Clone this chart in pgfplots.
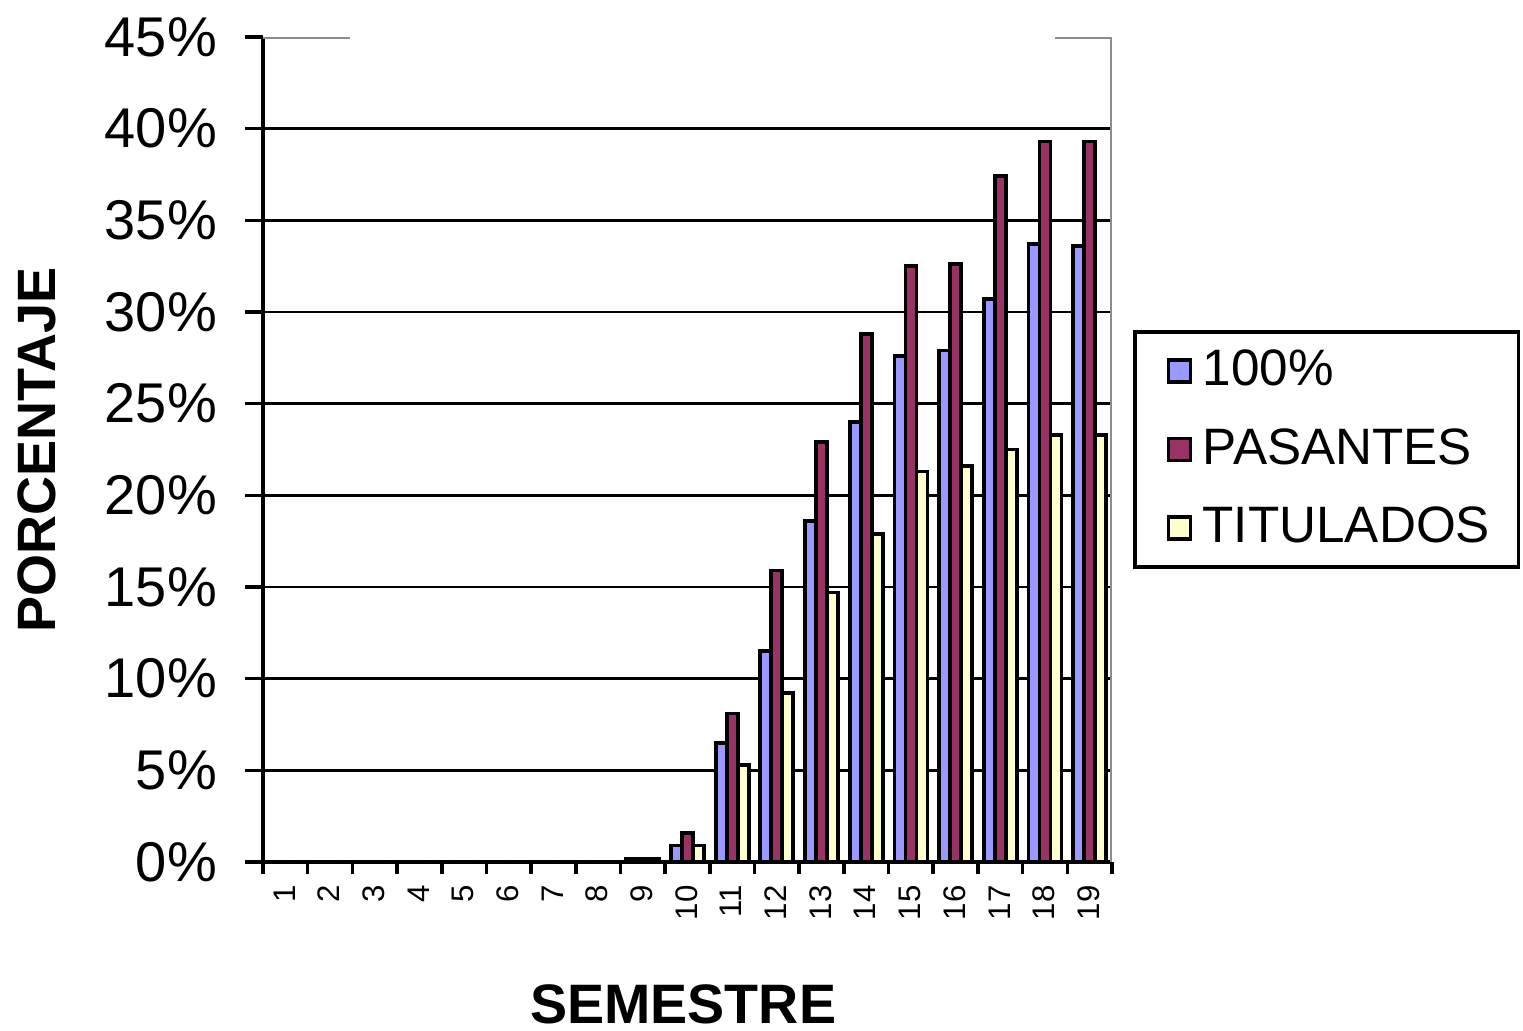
\documentclass[border=0pt]{standalone}
\usepackage{pgfplots}
\pgfplotsset{compat=1.18}
\usepackage{fontspec}
\setmainfont{Liberation Sans}
\definecolor{cA}{HTML}{9999FF}
\definecolor{cB}{HTML}{993366}
\definecolor{cC}{HTML}{FFFFCC}
\pgfplotstableread{
x a b c
1 0 0 0
2 0 0 0
3 0 0 0
4 0 0 0
5 0 0 0
6 0 0 0
7 0 0 0
8 0 0 0
9 0.15 0.15 0.15
10 0.9 1.6 0.9
11 6.5 8.1 5.3
12 11.5 15.9 9.2
13 18.6 22.9 14.7
14 24.0 28.8 17.9
15 27.6 32.5 21.3
16 27.9 32.6 21.6
17 30.7 37.4 22.5
18 33.7 39.3 23.3
19 33.6 39.3 23.3
}\data
\begin{document}
\begin{tikzpicture}
\begin{axis}[
  name=ax,
  scale only axis,
  width=212.25pt, height=206.25pt,
  xmin=0.5, xmax=19.5, ymin=0, ymax=45,
  ybar=0pt, bar width=2.75pt,
  axis lines*=left,
  axis line style={line width=0.9pt, black},
  xtick={1,...,19},
  xticklabels={1,2,3,4,5,6,7,8,9,10,11,12,13,14,15,16,17,18,19},
  xticklabel style={rotate=90, anchor=east, font=\fontsize{7.8}{8}\selectfont, yshift=0.25pt, xshift=2.2pt},
  xtick style={draw=none},
  extra x ticks={0.5,1.5,...,19.5},
  extra x tick labels={},
  extra x tick style={xtick style={draw=black, line width=0.9pt}, major tick length=3pt, grid=none},
  ytick={0,5,...,40},
  yticklabels={0\%,5\%,10\%,15\%,20\%,25\%,30\%,35\%,40\%},
  extra y ticks={45},
  extra y tick labels={45\%},
  extra y tick style={grid=none},
  yticklabel style={font=\fontsize{14}{16}\selectfont, xshift=-3.5pt},
  ytick style={line width=0.9pt, black},
  tick align=outside,
  major tick length=4.5pt,
  ymajorgrids,
  grid style={black, line width=0.7pt},
  ylabel={PORCENTAJE},
  ylabel style={at={(axis description cs:-0.266,0.5)}, anchor=center, font=\bfseries\fontsize{13.5}{16}\selectfont},
  xlabel={SEMESTRE},
  xlabel style={at={(axis description cs:0.495,-0.173)}, anchor=center, font=\bfseries\fontsize{13.9}{16}\selectfont},
  legend style={at={(1,0.5)}, anchor=west, xshift=5.25pt, draw=black, line width=0.9pt,
    font=\fontsize{12.8}{15}\selectfont, row sep=5.2pt, inner xsep=4.5pt, inner ysep=2.5pt,
    cells={anchor=west}, nodes={inner xsep=2.6pt}},
  legend image code/.code={\path (0pt,0pt); \draw[#1, line width=0.8pt] (3.5pt,-2.75pt) rectangle (9pt,2.75pt);},
  every axis plot/.append style={draw=black, line width=0.95pt},
]
\addplot[fill=cA] table[x=x,y=a]{\data};
\addplot[fill=cB] table[x=x,y=b]{\data};
\addplot[fill=cC] table[x=x,y=c]{\data};
\legend{100\%,PASANTES,TITULADOS}
\draw[gray!90, line width=0.9pt] (axis cs:19.5,0) -- (axis cs:19.5,45);
\draw[gray!90, line width=0.9pt] (axis cs:0.5,45) -- (axis cs:2.45,45);
\draw[gray!90, line width=0.9pt] (axis cs:18.23,45) -- (axis cs:19.5,45);
\end{axis}
\pgfresetboundingbox
\path (ax.south west) ++(-65.75pt,-42pt) rectangle ++(380.75pt,257.5pt);
\end{tikzpicture}
\end{document}
